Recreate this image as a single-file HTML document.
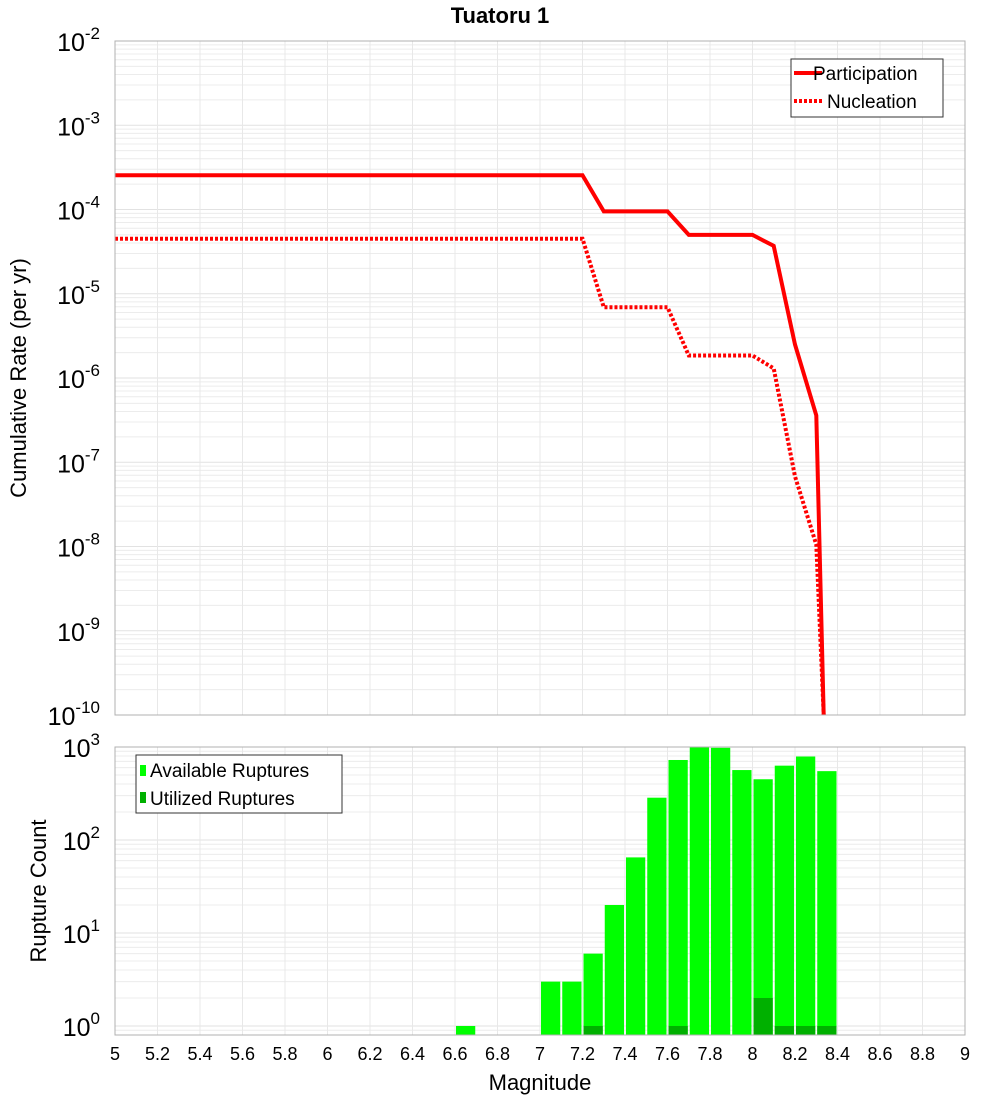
<!DOCTYPE html>
<html><head><meta charset="utf-8"><style>
body{margin:0;background:#fff;}
svg{display:block;font-family:"Liberation Sans","DejaVu Sans",sans-serif;}
</style></head><body>
<svg id="c" width="1000" height="1100" xmlns="http://www.w3.org/2000/svg">
<text x="500" y="23" text-anchor="middle" font-size="22" font-weight="bold">Tuatoru 1</text>
<g id="top"></g>
<g id="bot"></g>
<text transform="translate(26,378) rotate(-90)" text-anchor="middle" font-size="22">Cumulative Rate (per yr)</text>
<text transform="translate(46,891) rotate(-90)" text-anchor="middle" font-size="22">Rupture Count</text>
<text x="540" y="1090" text-anchor="middle" font-size="22">Magnitude</text>
</svg>
<script>
const partMag=[5,7.2,7.3,7.6,7.7,8.0,8.1,8.2,8.3,8.335];
const partRate=[2.55e-4,2.55e-4,9.5e-5,9.5e-5,5.0e-5,5.0e-5,3.7e-5,2.5e-6,3.6e-7,1e-11];
const nuclMag=[5,7.2,7.3,7.6,7.7,8.0,8.1,8.2,8.3,8.335];
const nuclRate=[4.5e-5,4.5e-5,6.9e-6,6.9e-6,1.85e-6,1.85e-6,1.3e-6,6.8e-8,1.05e-8,1e-11];
const binMag=[6.6,7.0,7.1,7.2,7.3,7.4,7.5,7.6,7.7,7.8,7.9,8.0,8.1,8.2,8.3];
const availCount=[1,3,3,6,20,65,285,725,1000,980,565,450,630,790,550];
const usedCount=[0,0,0,1,0,0,0,1,0,0,0,2,1,1,1];
const xTicks=[5,5.2,5.4,5.6,5.8,6,6.2,6.4,6.6,6.8,7,7.2,7.4,7.6,7.8,8,8.2,8.4,8.6,8.8,9];
const topExp=[-2,-3,-4,-5,-6,-7,-8,-9,-10];
const botExp=[3,2,1,0];

const NS="http://www.w3.org/2000/svg";
const L=115,R=965;
const X=m=>L+(m-5)/4*(R-L);
const T0=41,T1=715;
const YT=v=>T0+(-2-Math.log10(v))*(T1-T0)/8;
const B0=747,B1=1035,Bmin=0.8,Bmax=1000;
const YB=v=>B0+(Math.log10(Bmax)-Math.log10(v))*(B1-B0)/(Math.log10(Bmax)-Math.log10(Bmin));
function el(p,t,a){const e=document.createElementNS(NS,t);for(const k in a)e.setAttribute(k,a[k]);p.appendChild(e);return e;}
const topG=document.getElementById('top'),botG=document.getElementById('bot'),svgRoot=document.getElementById('c');

function grid(g,y0,y1,yf,lo,hi){
  for(let d=lo;d<hi;d++)for(let k=1;k<10;k++){const v=k*Math.pow(10,d);const y=yf(v);if(y<y0-0.5||y>y1+0.5)continue;
    const ln=el(g,'line',{x1:L,x2:R,y1:y,y2:y,stroke:k==1?'#e2e2e2':'#ececec','stroke-width':1});
    
    }
  for(const t of xTicks){const ln=el(g,'line',{x1:X(t),x2:X(t),y1:y0,y2:y1,stroke:'#e8e8e8','stroke-width':1});
    
    }
}
grid(topG,T0,T1,YT,-11,-1);
grid(botG,B0,B1,YB,-1,3);

function ylab(g,e,y,name){const t=el(g,'text',{x:100,y:y+10,'text-anchor':'end','font-size':25});
  
  
  t.textContent='10';const s=el(t,'tspan',{dy:-12,'font-size':17});s.textContent=String(e);}
topExp.forEach(e=>ylab(topG,e,YT(Math.pow(10,e)),'rate-y-tick-label'));
botExp.forEach(e=>ylab(botG,e,YB(Math.pow(10,e)),'count-y-tick-label'));

function drawLine(mags,rates,dash,name){const pts=mags.map((m,i)=>X(m).toFixed(1)+','+Math.min(YT(rates[i]),T1).toFixed(1)).join(' ');
  const p=el(topG,'polyline',{points:pts,fill:'none',stroke:'#ff0000','stroke-width':4,'stroke-linejoin':'miter'});
  if(dash)p.setAttribute('stroke-dasharray','3,2');
  
  }
drawLine(partMag,partRate,false,'participation-line');
drawLine(nuclMag,nuclRate,true,'nucleation-line');

binMag.forEach((m,i)=>{const x0=X(m)+1,w=X(m+0.1)-X(m)-2;
  const yv=YB(availCount[i]);
  const r=el(botG,'rect',{x:x0,y:yv,width:w,height:B1-yv,fill:'#00ff00'});
  
  
  if(usedCount[i]>0){const yu=YB(usedCount[i]);
    const u=el(botG,'rect',{x:x0,y:yu,width:w,height:B1-yu,fill:'#00b000'});
    
    }
});

const f1=el(topG,'rect',{x:L,y:T0,width:R-L,height:T1-T0,fill:'none',stroke:'#b0b0b0','stroke-width':1});


const f2=el(botG,'rect',{x:L,y:B0,width:R-L,height:B1-B0,fill:'none',stroke:'#b0b0b0','stroke-width':1});



xTicks.forEach(t=>{const tx=el(svgRoot,'text',{x:X(t),y:1060,'text-anchor':'middle','font-size':18});
  
  
  tx.textContent=String(t);});

const lg1=el(topG,'g',{});


el(lg1,'rect',{x:791,y:59,width:152,height:58,fill:'#fff',stroke:'#333','stroke-width':1});
el(lg1,'line',{x1:794,x2:822,y1:73,y2:73,stroke:'#f00','stroke-width':4});
el(lg1,'line',{x1:794,x2:822,y1:101,y2:101,stroke:'#f00','stroke-width':4,'stroke-dasharray':'3,2'});
const ta=el(lg1,'text',{x:813,y:80,'font-size':19});ta.textContent='Participation';


const tb=el(lg1,'text',{x:827,y:108,'font-size':19});tb.textContent='Nucleation';



const lg2=el(botG,'g',{});


el(lg2,'rect',{x:136,y:755,width:206,height:58,fill:'#fff',stroke:'#333','stroke-width':1});
el(lg2,'rect',{x:140,y:765,width:6,height:11,fill:'#00ff00'});
el(lg2,'rect',{x:140,y:792,width:6,height:11,fill:'#00b000'});
const tc=el(lg2,'text',{x:150,y:777,'font-size':19});tc.textContent='Available Ruptures';


const td=el(lg2,'text',{x:150,y:805,'font-size':19});td.textContent='Utilized Ruptures';


</script>
</body></html>
